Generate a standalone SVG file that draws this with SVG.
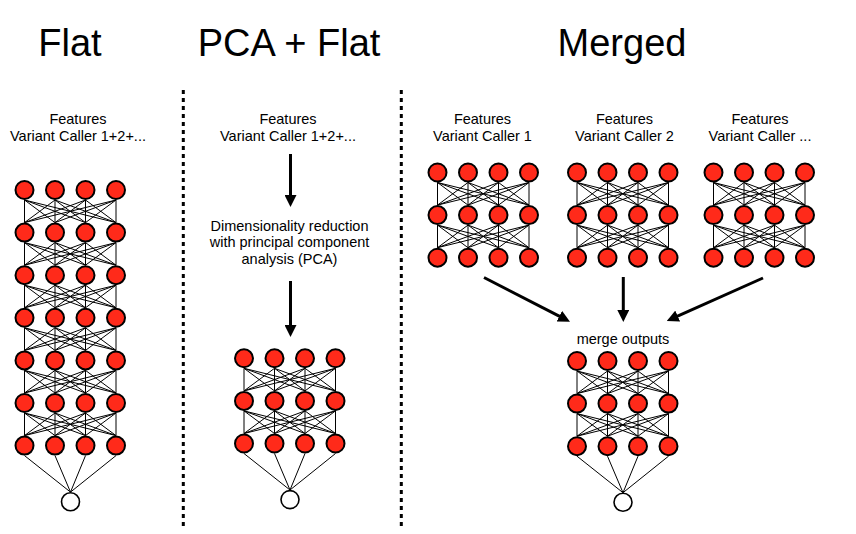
<svg xmlns="http://www.w3.org/2000/svg" xmlns:xlink="http://www.w3.org/1999/xlink" width="856" height="534" viewBox="0 0 856 534">
<style>
.t{font-family:"Liberation Sans",Arial,sans-serif;fill:#000;text-anchor:middle}
.ttl{font-size:38px}
.lbl{font-size:14.5px}
.lk line{stroke:#000;stroke-width:1}
.n{fill:#ff2a1a;stroke:#000;stroke-width:2}
.o{fill:#fff;stroke:#000;stroke-width:1.6}
.sep{stroke:#000;stroke-width:3;stroke-dasharray:4 4;fill:none}
.ar{stroke:#000;stroke-width:3;fill:none;marker-end:url(#ah)}
</style>
<defs>
<marker id="ah" viewBox="0 0 12 12" refX="2" refY="6" markerWidth="12" markerHeight="12" markerUnits="userSpaceOnUse" orient="auto">
<path d="M0,0 L12,6 L0,12 z" fill="#000"/>
</marker>
<g id="links" class="lk">
<line x1="0" y1="10" x2="0" y2="32.6"/><line x1="0" y1="10" x2="30.5" y2="32.6"/><line x1="0" y1="10" x2="61" y2="32.6"/><line x1="0" y1="10" x2="91.5" y2="32.6"/>
<line x1="30.5" y1="10" x2="0" y2="32.6"/><line x1="30.5" y1="10" x2="30.5" y2="32.6"/><line x1="30.5" y1="10" x2="61" y2="32.6"/><line x1="30.5" y1="10" x2="91.5" y2="32.6"/>
<line x1="61" y1="10" x2="0" y2="32.6"/><line x1="61" y1="10" x2="30.5" y2="32.6"/><line x1="61" y1="10" x2="61" y2="32.6"/><line x1="61" y1="10" x2="91.5" y2="32.6"/>
<line x1="91.5" y1="10" x2="0" y2="32.6"/><line x1="91.5" y1="10" x2="30.5" y2="32.6"/><line x1="91.5" y1="10" x2="61" y2="32.6"/><line x1="91.5" y1="10" x2="91.5" y2="32.6"/>
</g>
<g id="outlinks" class="lk">
<line x1="0" y1="10" x2="46" y2="46.5"/><line x1="30.5" y1="10" x2="46" y2="46.5"/><line x1="61" y1="10" x2="46" y2="46.5"/><line x1="91.5" y1="10" x2="46" y2="46.5"/>
</g>
<g id="row">
<circle class="n" cx="0" cy="0" r="9"/><circle class="n" cx="30.5" cy="0" r="9"/><circle class="n" cx="61" cy="0" r="9"/><circle class="n" cx="91.5" cy="0" r="9"/>
</g>
</defs>
<rect width="856" height="534" fill="#fff"/>

<g id="titles">
<text class="t ttl" x="70" y="56">Flat</text>
<text class="t ttl" x="289" y="56">PCA + Flat</text>
<text class="t ttl" x="622" y="56">Merged</text>
</g>

<g id="separators">
<line class="sep" x1="183.3" y1="90" x2="183.3" y2="528"/>
<line class="sep" x1="401.3" y1="90" x2="401.3" y2="528"/>
</g>

<g id="label-flat">
<text class="t lbl" x="78" y="123.5">Features</text>
<text class="t lbl" x="78" y="140.5">Variant Caller 1+2+...</text>
</g>
<g id="label-pca">
<text class="t lbl" x="288" y="123.5">Features</text>
<text class="t lbl" x="288" y="140.5">Variant Caller 1+2+...</text>
</g>
<g id="pca-step">
<text class="t lbl" x="289.5" y="230.5">Dimensionality reduction</text>
<text class="t lbl" x="289.5" y="247">with principal component</text>
<text class="t lbl" x="289.5" y="263.5">analysis (PCA)</text>
</g>
<g id="label-vc1">
<text class="t lbl" x="482.5" y="123.5">Features</text>
<text class="t lbl" x="482.5" y="140.5">Variant Caller 1</text>
</g>
<g id="label-vc2">
<text class="t lbl" x="624.5" y="123.5">Features</text>
<text class="t lbl" x="624.5" y="140.5">Variant Caller 2</text>
</g>
<g id="label-vc3">
<text class="t lbl" x="760" y="123.5">Features</text>
<text class="t lbl" x="760" y="140.5">Variant Caller ...</text>
</g>
<g id="merge-label">
<text class="t lbl" x="623" y="343.5">merge outputs</text>
</g>

<g id="net-flat">
<use xlink:href="#links" href="#links" transform="translate(24.5,190)"/>
<use xlink:href="#links" href="#links" transform="translate(24.5,232.6)"/>
<use xlink:href="#links" href="#links" transform="translate(24.5,275.2)"/>
<use xlink:href="#links" href="#links" transform="translate(24.5,317.8)"/>
<use xlink:href="#links" href="#links" transform="translate(24.5,360.4)"/>
<use xlink:href="#links" href="#links" transform="translate(24.5,403)"/>
<use xlink:href="#outlinks" href="#outlinks" transform="translate(24.5,445.6)"/>
<use xlink:href="#row" href="#row" transform="translate(24.5,190)"/>
<use xlink:href="#row" href="#row" transform="translate(24.5,232.6)"/>
<use xlink:href="#row" href="#row" transform="translate(24.5,275.2)"/>
<use xlink:href="#row" href="#row" transform="translate(24.5,317.8)"/>
<use xlink:href="#row" href="#row" transform="translate(24.5,360.4)"/>
<use xlink:href="#row" href="#row" transform="translate(24.5,403)"/>
<use xlink:href="#row" href="#row" transform="translate(24.5,445.6)"/>
<circle class="o" cx="70.5" cy="501.8" r="9"/>
</g>

<g id="net-pca">
<use xlink:href="#links" href="#links" transform="translate(244,358.3)"/>
<use xlink:href="#links" href="#links" transform="translate(244,400.9)"/>
<use xlink:href="#outlinks" href="#outlinks" transform="translate(244,443.5)"/>
<use xlink:href="#row" href="#row" transform="translate(244,358.3)"/>
<use xlink:href="#row" href="#row" transform="translate(244,400.9)"/>
<use xlink:href="#row" href="#row" transform="translate(244,443.5)"/>
<circle class="o" cx="290" cy="499.6" r="9"/>
</g>

<g id="net-vc1">
<use xlink:href="#links" href="#links" transform="translate(437.5,172.5)"/>
<use xlink:href="#links" href="#links" transform="translate(437.5,215.1)"/>
<use xlink:href="#row" href="#row" transform="translate(437.5,172.5)"/>
<use xlink:href="#row" href="#row" transform="translate(437.5,215.1)"/>
<use xlink:href="#row" href="#row" transform="translate(437.5,257.7)"/>
</g>
<g id="net-vc2">
<use xlink:href="#links" href="#links" transform="translate(577,172.5)"/>
<use xlink:href="#links" href="#links" transform="translate(577,215.1)"/>
<use xlink:href="#row" href="#row" transform="translate(577,172.5)"/>
<use xlink:href="#row" href="#row" transform="translate(577,215.1)"/>
<use xlink:href="#row" href="#row" transform="translate(577,257.7)"/>
</g>
<g id="net-vc3">
<use xlink:href="#links" href="#links" transform="translate(713.5,172.5)"/>
<use xlink:href="#links" href="#links" transform="translate(713.5,215.1)"/>
<use xlink:href="#row" href="#row" transform="translate(713.5,172.5)"/>
<use xlink:href="#row" href="#row" transform="translate(713.5,215.1)"/>
<use xlink:href="#row" href="#row" transform="translate(713.5,257.7)"/>
</g>
<g id="net-merged">
<use xlink:href="#links" href="#links" transform="translate(577,361)"/>
<use xlink:href="#links" href="#links" transform="translate(577,403.6)"/>
<use xlink:href="#outlinks" href="#outlinks" transform="translate(577,446.2)"/>
<use xlink:href="#row" href="#row" transform="translate(577,361)"/>
<use xlink:href="#row" href="#row" transform="translate(577,403.6)"/>
<use xlink:href="#row" href="#row" transform="translate(577,446.2)"/>
<circle class="o" cx="623" cy="502.3" r="9"/>
</g>

<g id="connectors">
<line class="ar" x1="290.5" y1="154" x2="290.5" y2="197"/>
<line class="ar" x1="290.5" y1="281" x2="290.5" y2="327"/>
<line class="ar" x1="484" y1="277.5" x2="561.1" y2="317.1"/>
<line class="ar" x1="623.3" y1="277" x2="623.3" y2="312"/>
<line class="ar" x1="763" y1="278" x2="675.9" y2="316.9"/>
</g>
</svg>
